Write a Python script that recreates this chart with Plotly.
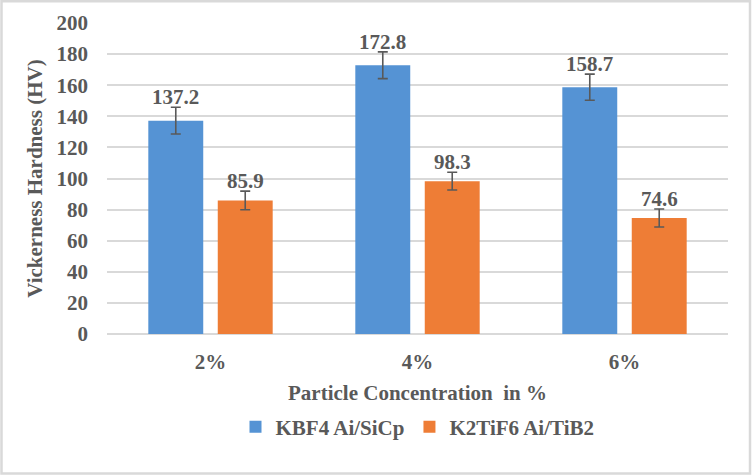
import plotly.graph_objects as go

categories = ["2%", "4%", "6%"]
series_names = ["KBF4 Ai/SiCp", "K2TiF6 Ai/TiB2"]
kbf4_values = [137.2, 172.8, 158.7]
k2tif6_values = [85.9, 98.3, 74.6]
kbf4_errors = [8.6, 8.6, 8.4]
k2tif6_errors = [6.0, 5.7, 5.8]
y_ticks = [0, 20, 40, 60, 80, 100, 120, 140, 160, 180, 200]

FONT = "Times New Roman, Liberation Serif, DejaVu Serif, serif"
GRAY = "#595959"
FS = 21
W, H = 752, 475
ML, MR, MT, MB = 107, 24, 23, 141

fig = go.Figure()
fig.add_trace(go.Bar(
    x=categories, y=kbf4_values, name=f"<b>{series_names[0]}</b>",
    marker=dict(color="#5593d4", line=dict(width=0)),
    error_y=dict(type="data", array=kbf4_errors, color=GRAY, thickness=1.6, width=5),
))
fig.add_trace(go.Bar(
    x=categories, y=k2tif6_values, name=f"<b>{series_names[1]}</b>",
    marker=dict(color="#ee7d36", line=dict(width=0)),
    error_y=dict(type="data", array=k2tif6_errors, color=GRAY, thickness=1.6, width=5),
))

plot_w = W - ML - MR
cat_w = plot_w / len(categories)
bargap = 0.329
bargroupgap = 0.209
slot = cat_w * (1 - bargap) / 2
shift = slot / 2

for vals, errs, sgn in [(kbf4_values, kbf4_errors, -1), (k2tif6_values, k2tif6_errors, 1)]:
    for c, v, e in zip(categories, vals, errs):
        fig.add_annotation(
            x=c, y=v + e, text=f"<b>{v:.1f}</b>", showarrow=False,
            xref="x", yref="y", xshift=sgn * shift, yshift=-4,
            yanchor="bottom", xanchor="center",
            font=dict(family=FONT, size=FS, color=GRAY),
        )

plot_h = H - MT - MB
def px_x(p):
    return (p - ML) / plot_w
def px_y(p):
    return (H - MB - p) / plot_h

fig.add_shape(type="rect", xref="paper", yref="paper",
              x0=px_x(1.5), x1=px_x(750), y0=px_y(473.5), y1=px_y(1.2),
              line=dict(color="#d9d9d9", width=2.5), fillcolor="rgba(0,0,0,0)", layer="below")

fig.update_layout(
    width=W, height=H,
    margin=dict(l=ML, r=MR, t=MT, b=MB),
    paper_bgcolor="white", plot_bgcolor="white",
    barmode="group", bargap=bargap, bargroupgap=bargroupgap,
    font=dict(family=FONT, color=GRAY, size=FS),
    showlegend=True,
    legend=dict(orientation="h", x=0.5, xanchor="center", y=px_y(427), yanchor="middle",
                font=dict(family=FONT, size=FS, color=GRAY),
                traceorder="normal", itemwidth=30),
    xaxis=dict(
        type="category", showgrid=False, ticks="", showline=False, zeroline=False,
        tickfont=dict(family=FONT, size=FS, color=GRAY),
        tickvals=categories, ticktext=[f"<b>{c}</b>" for c in categories],
        ticklabelstandoff=13,
        title=dict(text="<b>Particle Concentration  in %</b>", standoff=12,
                   font=dict(family=FONT, size=FS, color=GRAY)),
    ),
    yaxis=dict(
        range=[0, 200], tickvals=y_ticks, ticktext=[f"<b>{t}</b>" for t in y_ticks],
        showgrid=True, gridcolor="#d9d9d9", gridwidth=1.5,
        zeroline=True, zerolinecolor="#d9d9d9", zerolinewidth=1.5,
        showline=False, ticks="",
        tickfont=dict(family=FONT, size=FS, color=GRAY),
        ticklabelstandoff=18,
        title=dict(text="<b>Vickerness Hardness (HV)</b>", standoff=8,
                   font=dict(family=FONT, size=FS, color=GRAY)),
    ),
)

fig.write_html("out.html")
